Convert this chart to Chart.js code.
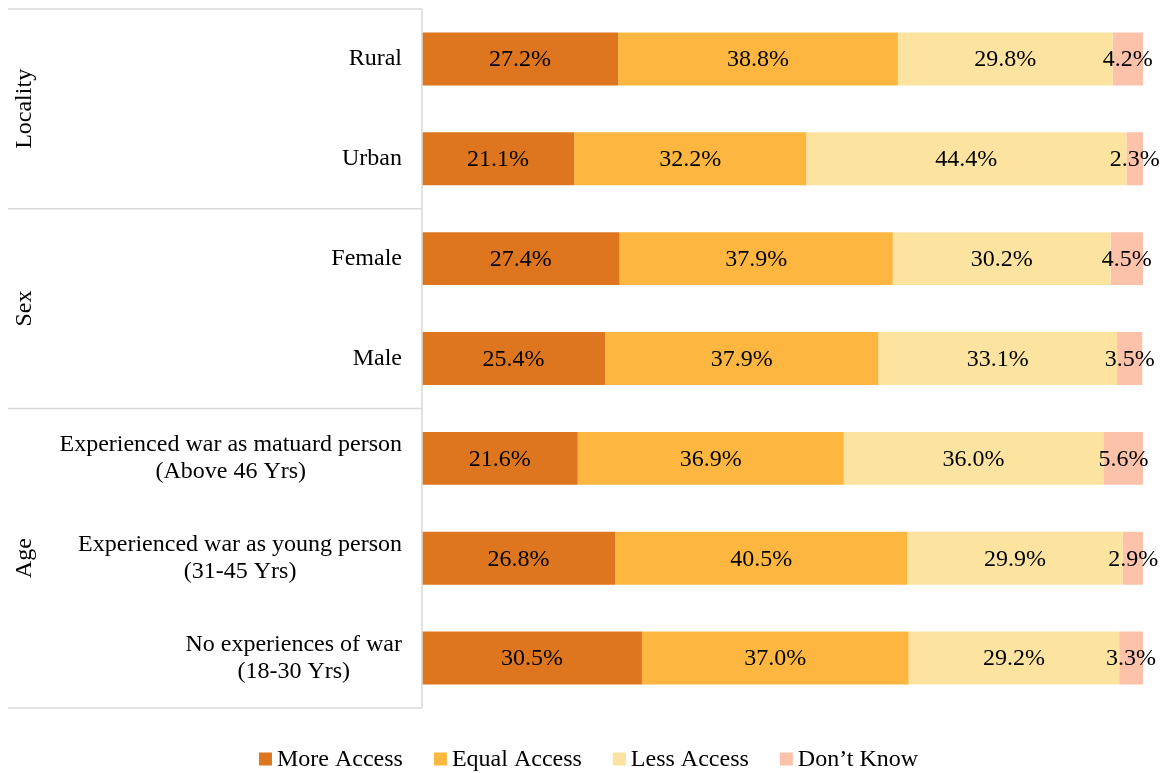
<!DOCTYPE html>
<html>
<head>
<meta charset="utf-8">
<title>Access by group</title>
<script src="https://cdn.jsdelivr.net/npm/chart.js@4.4.0/dist/chart.umd.min.js"></script>
<style>
  html, body { margin: 0; padding: 0; background: #ffffff; }
  #wrap { width: 1167px; height: 773px; position: relative; }
</style>
</head>
<body>
<div id="wrap"><canvas id="chart"></canvas></div>
<script>
// Row labels (multi-line where needed), top to bottom
const categories = [
  ['Rural'],
  ['Urban'],
  ['Female'],
  ['Male'],
  ['Experienced war as matuard person', '(Above 46 Yrs)'],
  ['Experienced war as young person', '(31-45 Yrs)'],
  ['No experiences of war', '(18-30 Yrs)']
];

// Grouping of the rows on the left side
const groupNames = ['Locality', 'Sex', 'Age'];
const groupSizes = [2, 2, 3];

// Shares in percent
const moreAccess  = [27.2, 21.1, 27.4, 25.4, 21.6, 26.8, 30.5];
const equalAccess = [38.8, 32.2, 37.9, 37.9, 36.9, 40.5, 37.0];
const lessAccess  = [29.8, 44.4, 30.2, 33.1, 36.0, 29.9, 29.2];
const dontKnow    = [4.2, 2.3, 4.5, 3.5, 5.6, 2.9, 3.3];

const seriesNames = ['More Access', 'Equal Access', 'Less Access', 'Don\u2019t Know'];
const seriesColors = ['#de761f', '#fdb740', '#fde3a0', '#fdc2aa'];

const FONT = "'Liberation Serif', 'Times New Roman', serif";
Chart.defaults.font.family = FONT;
Chart.defaults.color = '#000000';

const lineColor = '#d9d9d9';

// Left panel: group separators, rotated group names and row labels
const sidePanel = {
  id: 'sidePanel',
  afterDraw(chart) {
    const { ctx, chartArea } = chart;
    const y = chart.scales.y;
    const left = 8;
    const right = chartArea.left;

    ctx.save();
    ctx.strokeStyle = lineColor;
    ctx.lineWidth = 1.5;

    // edges between groups
    const edges = [chartArea.top];
    let count = 0;
    groupSizes.forEach(n => {
      count += n;
      edges.push(y.getPixelForValue(count - 0.5));
    });
    edges.forEach(e => {
      ctx.beginPath();
      ctx.moveTo(left, e);
      ctx.lineTo(right, e);
      ctx.stroke();
    });
    ctx.beginPath();
    ctx.moveTo(right, chartArea.top);
    ctx.lineTo(right, edges[edges.length - 1]);
    ctx.stroke();

    // rotated group names
    ctx.fillStyle = '#000000';
    ctx.font = `24px ${FONT}`;
    ctx.textAlign = 'center';
    ctx.textBaseline = 'middle';
    groupNames.forEach((name, i) => {
      const mid = (edges[i] + edges[i + 1]) / 2;
      ctx.save();
      ctx.translate(25, mid);
      ctx.rotate(-Math.PI / 2);
      ctx.fillText(name, 0, 0);
      ctx.restore();
    });

    // row labels, block right aligned, lines centred within block
    const lineHeight = 27;
    categories.forEach((lines, i) => {
      const yc = y.getPixelForValue(i);
      const maxW = Math.max(...lines.map(l => ctx.measureText(l).width));
      const cx = right - 20 - maxW / 2;
      lines.forEach((l, j) => {
        ctx.fillText(l, cx, yc + (j - (lines.length - 1) / 2) * lineHeight);
      });
    });
    ctx.restore();
  }
};

// Value labels centred on each segment
const valueLabels = {
  id: 'valueLabels',
  afterDatasetsDraw(chart) {
    const { ctx } = chart;
    ctx.save();
    ctx.font = `24px ${FONT}`;
    ctx.fillStyle = '#000000';
    ctx.textAlign = 'center';
    ctx.textBaseline = 'middle';
    chart.data.datasets.forEach((ds, di) => {
      const meta = chart.getDatasetMeta(di);
      if (meta.hidden) return;
      meta.data.forEach((bar, i) => {
        const x = (bar.x + bar.base) / 2;
        ctx.fillText(ds.data[i].toFixed(1) + '%', x, bar.y + 1);
      });
    });
    ctx.restore();
  }
};

// Legend row under the plot: small square, tight gap, then the name
const bottomLegend = {
  id: 'bottomLegend',
  afterDraw(chart) {
    const { ctx, width } = chart;
    const box = 13, boxGap = 5, itemGap = 31, yc = 759;
    ctx.save();
    ctx.font = `24px ${FONT}`;
    ctx.textBaseline = 'middle';
    ctx.textAlign = 'left';
    const widths = seriesNames.map(n => ctx.measureText(n).width);
    const total = widths.reduce((a, w) => a + box + boxGap + w, 0) + itemGap * (seriesNames.length - 1);
    let x = (width - total) / 2 + 5;
    seriesNames.forEach((name, i) => {
      ctx.fillStyle = seriesColors[i];
      ctx.fillRect(x, yc - box / 2, box, box);
      ctx.fillStyle = '#000000';
      ctx.fillText(name, x + box + boxGap, yc + 1);
      x += box + boxGap + widths[i] + itemGap;
    });
    ctx.restore();
  }
};

const allSeries = [moreAccess, equalAccess, lessAccess, dontKnow];

new Chart(document.getElementById('chart'), {
  type: 'bar',
  data: {
    labels: categories.map(c => c.join(' ')),
    datasets: allSeries.map((data, i) => ({
      label: seriesNames[i],
      data: data,
      backgroundColor: seriesColors[i],
      borderWidth: 0,
      categoryPercentage: 1,
      barPercentage: 0.53
    }))
  },
  options: {
    indexAxis: 'y',
    responsive: true,
    maintainAspectRatio: false,
    animation: false,
    layout: { padding: { left: 8, top: 9, right: 24, bottom: 65 } },
    scales: {
      x: {
        stacked: true,
        min: 0,
        max: 100,
        display: false
      },
      y: {
        stacked: true,
        grid: { display: false },
        border: { display: false },
        ticks: { display: false },
        afterFit(scale) { scale.width = 414; }
      }
    },
    plugins: {
      legend: { display: false },
      tooltip: { enabled: false }
    }
  },
  plugins: [sidePanel, valueLabels, bottomLegend]
});
</script>
</body>
</html>
